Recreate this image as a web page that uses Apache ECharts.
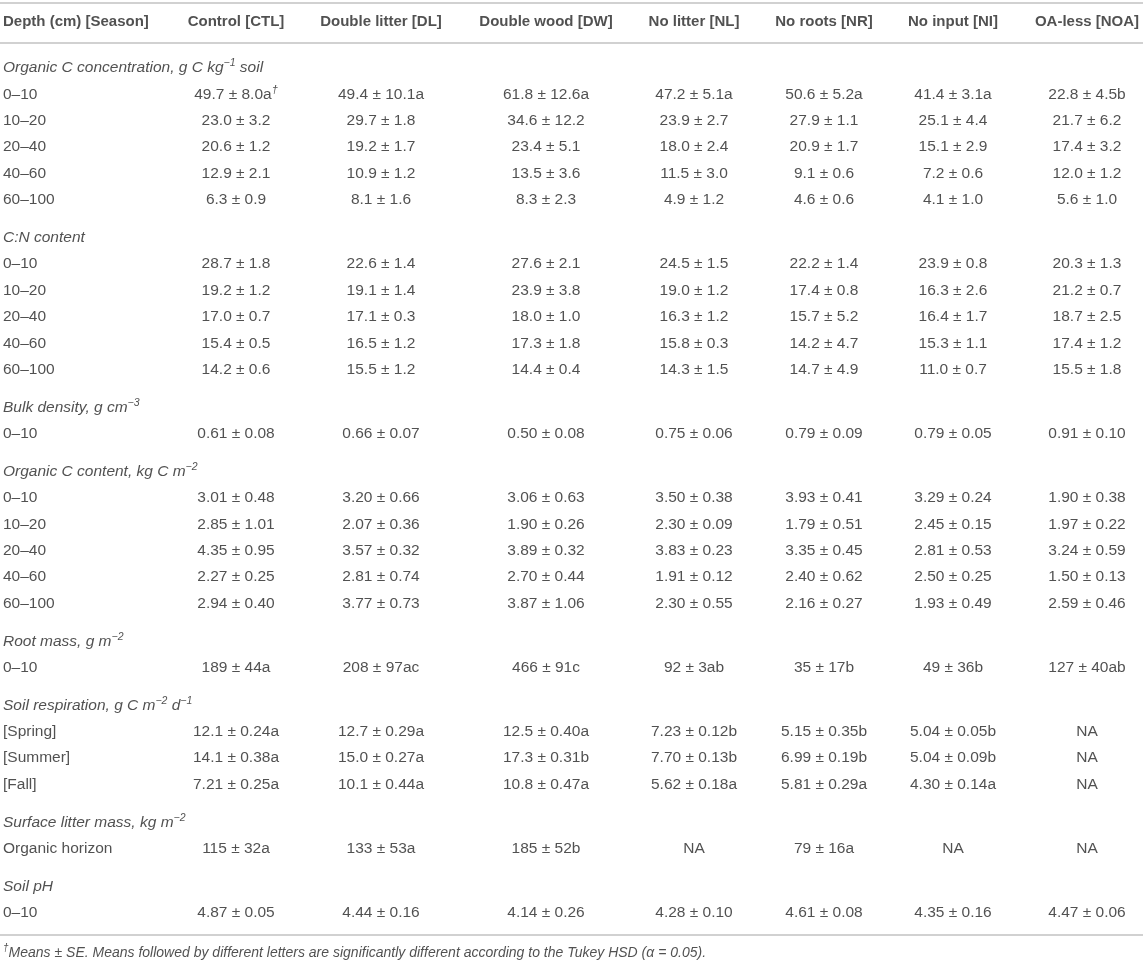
<!DOCTYPE html>
<html>
<head>
<meta charset="utf-8">
<script src="https://cdn.jsdelivr.net/npm/echarts@6/dist/echarts.min.js"></script>
<style>
html,body{margin:0;padding:0;background:#fff;}
#chart{width:1143px;height:963px;}
</style>
</head>
<body>
<div id="chart"></div>
<script>
// ---------- DATA ----------
const firstHeader = 'Depth (cm) [Season]';
const treatments = ['Control [CTL]', 'Double litter [DL]', 'Double wood [DW]', 'No litter [NL]', 'No roots [NR]', 'No input [NI]', 'OA-less [NOA]'];
const depths = ['0–10', '10–20', '20–40', '40–60', '60–100'];
const topDepth = ['0–10'];
const seasons = ['[Spring]', '[Summer]', '[Fall]'];
const horizon = ['Organic horizon'];

const orgCConcTitle = 'Organic C concentration, g C kg{supi|−1} soil';
const orgCConc = [
  ['49.7 ± 8.0a{dag|†}', '49.4 ± 10.1a', '61.8 ± 12.6a', '47.2 ± 5.1a', '50.6 ± 5.2a', '41.4 ± 3.1a', '22.8 ± 4.5b'],
  ['23.0 ± 3.2', '29.7 ± 1.8', '34.6 ± 12.2', '23.9 ± 2.7', '27.9 ± 1.1', '25.1 ± 4.4', '21.7 ± 6.2'],
  ['20.6 ± 1.2', '19.2 ± 1.7', '23.4 ± 5.1', '18.0 ± 2.4', '20.9 ± 1.7', '15.1 ± 2.9', '17.4 ± 3.2'],
  ['12.9 ± 2.1', '10.9 ± 1.2', '13.5 ± 3.6', '11.5 ± 3.0', '9.1 ± 0.6', '7.2 ± 0.6', '12.0 ± 1.2'],
  ['6.3 ± 0.9', '8.1 ± 1.6', '8.3 ± 2.3', '4.9 ± 1.2', '4.6 ± 0.6', '4.1 ± 1.0', '5.6 ± 1.0']
];

const cnTitle = 'C:N content';
const cnContent = [
  ['28.7 ± 1.8', '22.6 ± 1.4', '27.6 ± 2.1', '24.5 ± 1.5', '22.2 ± 1.4', '23.9 ± 0.8', '20.3 ± 1.3'],
  ['19.2 ± 1.2', '19.1 ± 1.4', '23.9 ± 3.8', '19.0 ± 1.2', '17.4 ± 0.8', '16.3 ± 2.6', '21.2 ± 0.7'],
  ['17.0 ± 0.7', '17.1 ± 0.3', '18.0 ± 1.0', '16.3 ± 1.2', '15.7 ± 5.2', '16.4 ± 1.7', '18.7 ± 2.5'],
  ['15.4 ± 0.5', '16.5 ± 1.2', '17.3 ± 1.8', '15.8 ± 0.3', '14.2 ± 4.7', '15.3 ± 1.1', '17.4 ± 1.2'],
  ['14.2 ± 0.6', '15.5 ± 1.2', '14.4 ± 0.4', '14.3 ± 1.5', '14.7 ± 4.9', '11.0 ± 0.7', '15.5 ± 1.8']
];

const bulkTitle = 'Bulk density, g cm{supi|−3}';
const bulkDensity = [
  ['0.61 ± 0.08', '0.66 ± 0.07', '0.50 ± 0.08', '0.75 ± 0.06', '0.79 ± 0.09', '0.79 ± 0.05', '0.91 ± 0.10']
];

const orgCContTitle = 'Organic C content, kg C m{supi|−2}';
const orgCContent = [
  ['3.01 ± 0.48', '3.20 ± 0.66', '3.06 ± 0.63', '3.50 ± 0.38', '3.93 ± 0.41', '3.29 ± 0.24', '1.90 ± 0.38'],
  ['2.85 ± 1.01', '2.07 ± 0.36', '1.90 ± 0.26', '2.30 ± 0.09', '1.79 ± 0.51', '2.45 ± 0.15', '1.97 ± 0.22'],
  ['4.35 ± 0.95', '3.57 ± 0.32', '3.89 ± 0.32', '3.83 ± 0.23', '3.35 ± 0.45', '2.81 ± 0.53', '3.24 ± 0.59'],
  ['2.27 ± 0.25', '2.81 ± 0.74', '2.70 ± 0.44', '1.91 ± 0.12', '2.40 ± 0.62', '2.50 ± 0.25', '1.50 ± 0.13'],
  ['2.94 ± 0.40', '3.77 ± 0.73', '3.87 ± 1.06', '2.30 ± 0.55', '2.16 ± 0.27', '1.93 ± 0.49', '2.59 ± 0.46']
];

const rootTitle = 'Root mass, g m{supi|−2}';
const rootMass = [
  ['189 ± 44a', '208 ± 97ac', '466 ± 91c', '92 ± 3ab', '35 ± 17b', '49 ± 36b', '127 ± 40ab']
];

const respTitle = 'Soil respiration, g C m{supi|−2} d{supi|−1}';
const soilResp = [
  ['12.1 ± 0.24a', '12.7 ± 0.29a', '12.5 ± 0.40a', '7.23 ± 0.12b', '5.15 ± 0.35b', '5.04 ± 0.05b', 'NA'],
  ['14.1 ± 0.38a', '15.0 ± 0.27a', '17.3 ± 0.31b', '7.70 ± 0.13b', '6.99 ± 0.19b', '5.04 ± 0.09b', 'NA'],
  ['7.21 ± 0.25a', '10.1 ± 0.44a', '10.8 ± 0.47a', '5.62 ± 0.18a', '5.81 ± 0.29a', '4.30 ± 0.14a', 'NA']
];

const litterTitle = 'Surface litter mass, kg m{supi|−2}';
const litterMass = [
  ['115 ± 32a', '133 ± 53a', '185 ± 52b', 'NA', '79 ± 16a', 'NA', 'NA']
];

const phTitle = 'Soil pH';
const soilPH = [
  ['4.87 ± 0.05', '4.44 ± 0.16', '4.14 ± 0.26', '4.28 ± 0.10', '4.61 ± 0.08', '4.35 ± 0.16', '4.47 ± 0.06']
];

const footnote = '{supf|†}Means ± SE. Means followed by different letters are significantly different according to the Tukey HSD (α = 0.05).';

const sections = [
  { title: orgCConcTitle, rows: depths, values: orgCConc },
  { title: cnTitle, rows: depths, values: cnContent },
  { title: bulkTitle, rows: topDepth, values: bulkDensity },
  { title: orgCContTitle, rows: depths, values: orgCContent },
  { title: rootTitle, rows: topDepth, values: rootMass },
  { title: respTitle, rows: seasons, values: soilResp },
  { title: litterTitle, rows: horizon, values: litterMass },
  { title: phTitle, rows: topDepth, values: soilPH }
];

// ---------- LAYOUT ----------
const W = 1143, H = 963;
const FIRST_X = 3;
const COL_CENTERS = [236, 381, 546, 694, 824, 953, 1087];
const HEADER_Y = 22;
const RULES_Y = [3, 43, 935];
const FIRST_SECTION_Y = 68;
const ROW_H = 26.4;
const GAP = 11.3;
const FOOT_Y = 953;
const FONT = '"Liberation Sans", Arial, Helvetica, sans-serif';
const TEXT_COLOR = '#252525';
const FS = 15.5;

const richStyles = {
  supi: { fontSize: 10.5, lineHeight: 10, verticalAlign: 'top', fontStyle: 'italic', fontFamily: FONT, color: TEXT_COLOR },
  supf: { fontSize: 10, lineHeight: 10, verticalAlign: 'top', fontStyle: 'italic', fontFamily: FONT, color: TEXT_COLOR },
  dag: { fontSize: 11, lineHeight: 10, verticalAlign: 'top', fontStyle: 'italic', fontFamily: FONT, color: TEXT_COLOR }
};

const cells = [];
function addCell(x, y, text, opts) {
  cells.push({
    value: [x, y],
    label: Object.assign({ formatter: text }, opts || {})
  });
}

// header
addCell(FIRST_X, HEADER_Y, firstHeader, { align: 'left', fontWeight: 'bold', fontSize: 15 });
treatments.forEach((t, k) => addCell(COL_CENTERS[k], HEADER_Y, t, { fontWeight: 'bold', fontSize: 15 }));

// body
let y = FIRST_SECTION_Y;
sections.forEach((s, i) => {
  if (i > 0) y += ROW_H + GAP;
  addCell(FIRST_X, y, s.title, { align: 'left', fontStyle: 'italic' });
  s.rows.forEach((r, j) => {
    y += ROW_H;
    addCell(FIRST_X, y, r, { align: 'left' });
    s.values[j].forEach((v, k) => addCell(COL_CENTERS[k], y, v));
  });
});

// footnote
addCell(FIRST_X, FOOT_Y, footnote, { align: 'left', fontStyle: 'italic', fontSize: 14 });

const chart = echarts.init(document.getElementById('chart'), null, { renderer: 'canvas' });
chart.setOption({
  backgroundColor: '#ffffff',
  animation: false,
  grid: { left: 0, right: 0, top: 0, bottom: 0, containLabel: false },
  xAxis: { type: 'value', min: 0, max: W, show: false },
  yAxis: { type: 'value', min: 0, max: H, inverse: true, show: false },
  series: [{
    type: 'scatter',
    symbolSize: 1,
    silent: true,
    itemStyle: { color: 'rgba(0,0,0,0)' },
    label: {
      show: true,
      position: 'inside',
      align: 'center',
      verticalAlign: 'middle',
      fontFamily: FONT,
      fontSize: FS,
      lineHeight: 20,
      color: TEXT_COLOR,
      rich: richStyles
    },
    emphasis: { disabled: true },
    data: cells,
    markLine: {
      silent: true,
      symbol: 'none',
      label: { show: false },
      lineStyle: { color: '#c2c2c2', width: 1.6, type: 'solid' },
      emphasis: { disabled: true },
      data: RULES_Y.map(v => ({ yAxis: v }))
    }
  }]
});
</script>
</body>
</html>
